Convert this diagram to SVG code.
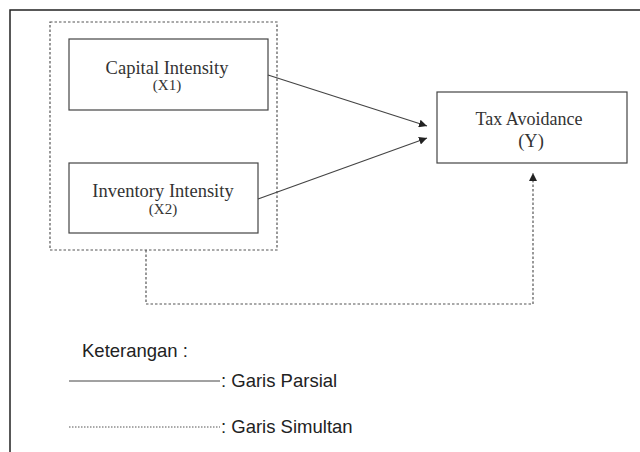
<svg xmlns="http://www.w3.org/2000/svg" width="640" height="452" viewBox="0 0 640 452">
<style>
.box{fill:#fff;stroke:#444;stroke-width:1.2}
.serif{font-family:"Liberation Serif","Times New Roman",serif;fill:#333;text-anchor:middle}
.sans{font-family:"Liberation Sans",Arial,sans-serif;fill:#222;font-size:18.5px}
.solid{stroke:#444;stroke-width:1.2;fill:none}
.dot{stroke:#555;stroke-width:1.2;fill:none;stroke-dasharray:2.5 2}
</style>
<defs>
<marker id="ah" viewBox="0 0 10 10" refX="10" refY="5" markerWidth="8" markerHeight="8" markerUnits="userSpaceOnUse" orient="auto">
<path d="M0,0 L10,5 L0,10 z" fill="#222"/>
</marker>
</defs>
<rect width="640" height="452" fill="#fff"/>
<path d="M10,452 V10 H640" stroke="#222" stroke-width="1.5" fill="none"/>
<g id="group-x">
<rect x="50" y="22" width="227" height="228" class="dot"/>
</g>
<g id="capital">
<rect x="69" y="39" width="199" height="71" class="box"/>
<text x="167" y="74" class="serif" font-size="18.5">Capital Intensity</text>
<text x="167" y="90" class="serif" font-size="15">(X1)</text>
</g>
<g id="inventory">
<rect x="69" y="163" width="189" height="70" class="box"/>
<text x="163" y="197" class="serif" font-size="18.5">Inventory Intensity</text>
<text x="163" y="214" class="serif" font-size="15">(X2)</text>
</g>
<g id="tax">
<rect x="437" y="92" width="190" height="71" class="box"/>
<text x="529" y="125" class="serif" font-size="18">Tax Avoidance</text>
<text x="531" y="147" class="serif" font-size="18.5">(Y)</text>
</g>
<g id="connectors">
<line x1="268" y1="75" x2="427" y2="126" class="solid" marker-end="url(#ah)"/>
<line x1="258" y1="199" x2="427" y2="138" class="solid" marker-end="url(#ah)"/>
<polyline points="146,250 146,304 533,304 533,173" class="dot" marker-end="url(#ah)"/>
</g>
<g id="legend">
<text x="82" y="357" class="sans">Keterangan :</text>
<line x1="69" y1="381" x2="220" y2="381" stroke="#444" stroke-width="1"/>
<text x="221" y="387" class="sans" font-size="19">: Garis Parsial</text>
<line x1="69" y1="427" x2="220" y2="427" stroke="#555" stroke-width="1" stroke-dasharray="1.5 1.5"/>
<text x="221" y="433" class="sans" font-size="19">: Garis Simultan</text>
</g>
</svg>
